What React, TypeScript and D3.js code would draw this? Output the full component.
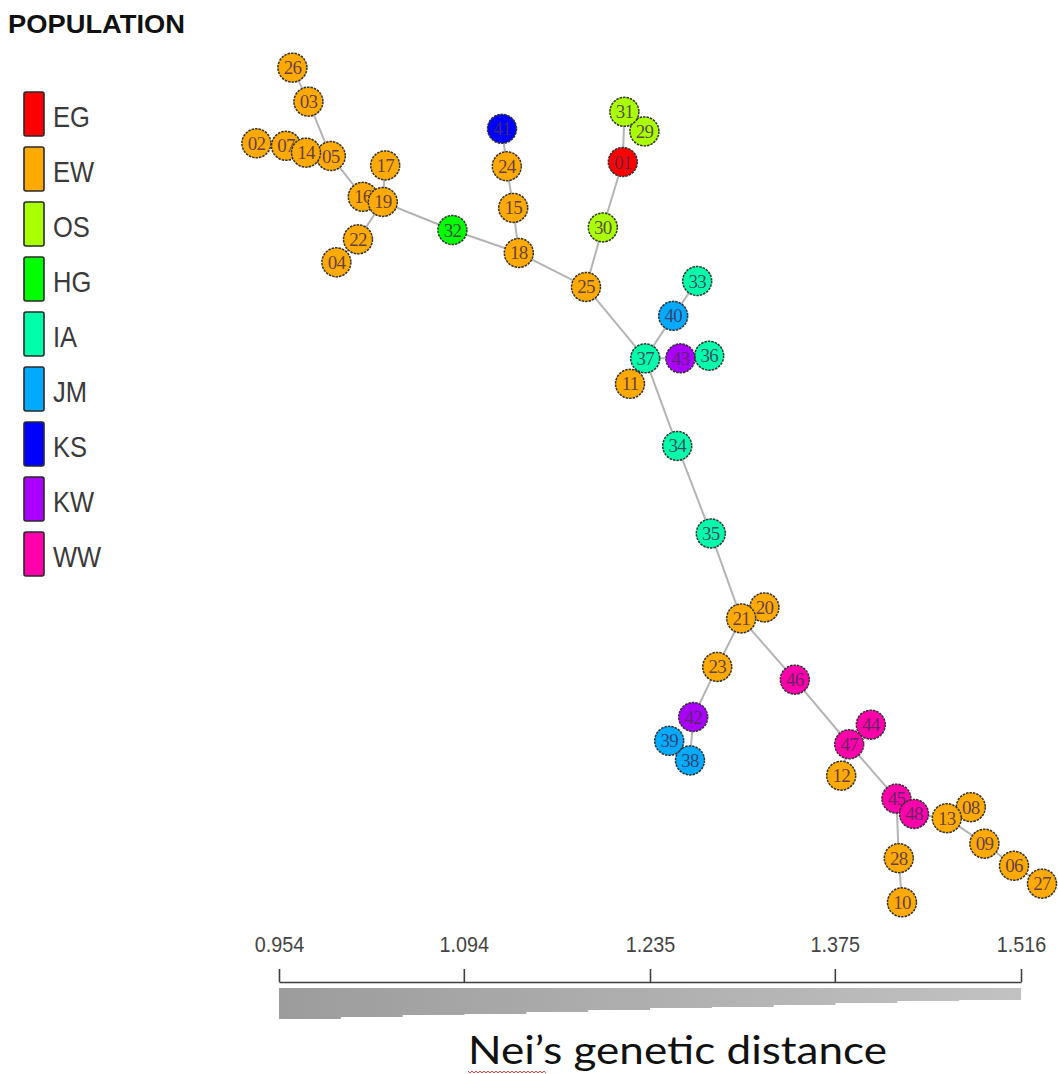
import React, { useEffect, useRef } from 'react';
import * as d3 from 'd3';

// populations and their colours (rainbow palette)
const POPULATIONS = ['EG', 'EW', 'OS', 'HG', 'IA', 'JM', 'KS', 'KW', 'WW'];
const POP_COLORS = ['#FF0000', '#FFAA00', '#AAFF00', '#00FF00', '#00FFAA', '#00AAFF', '#0000FF', '#AA00FF', '#FF00AA'];

// network nodes: id, population, layout x, layout y (layout units 0-100)
const NODES: [string, string, number, number][] = [
  ['01', 'EG', 46.6, 12.0],
  ['02', 'EW', 0.8, 9.8],
  ['03', 'EW', 7.3, 4.9],
  ['04', 'EW', 10.8, 23.8],
  ['05', 'EW', 10.1, 11.3],
  ['06', 'EW', 95.5, 94.8],
  ['07', 'EW', 4.5, 10.1],
  ['08', 'EW', 90.1, 87.9],
  ['09', 'EW', 91.8, 92.2],
  ['10', 'EW', 81.5, 99.1],
  ['11', 'EW', 47.5, 38.1],
  ['12', 'EW', 73.9, 84.2],
  ['13', 'EW', 87.1, 89.2],
  ['14', 'EW', 7.0, 10.9],
  ['15', 'EW', 32.9, 17.4],
  ['16', 'EW', 14.1, 16.1],
  ['17', 'EW', 16.9, 12.4],
  ['18', 'EW', 33.6, 22.7],
  ['19', 'EW', 16.6, 16.7],
  ['20', 'EW', 64.3, 64.4],
  ['21', 'EW', 61.4, 65.7],
  ['22', 'EW', 13.5, 21.1],
  ['23', 'EW', 58.4, 71.4],
  ['24', 'EW', 32.1, 12.5],
  ['25', 'EW', 42.0, 26.7],
  ['26', 'EW', 5.3, 0.9],
  ['27', 'EW', 99.0, 96.9],
  ['28', 'EW', 81.1, 93.9],
  ['29', 'OS', 49.3, 8.4],
  ['30', 'OS', 44.1, 19.7],
  ['31', 'OS', 46.8, 6.1],
  ['32', 'HG', 25.3, 20.0],
  ['33', 'IA', 55.9, 26.0],
  ['34', 'IA', 53.4, 45.4],
  ['35', 'IA', 57.6, 55.7],
  ['36', 'IA', 57.4, 34.8],
  ['37', 'IA', 49.4, 35.1],
  ['38', 'JM', 55.0, 82.4],
  ['39', 'JM', 52.4, 80.1],
  ['40', 'JM', 52.9, 30.1],
  ['41', 'KS', 31.5, 8.1],
  ['42', 'KW', 55.4, 77.3],
  ['43', 'KW', 53.8, 35.1],
  ['44', 'WW', 77.6, 78.2],
  ['45', 'WW', 80.8, 86.9],
  ['46', 'WW', 68.1, 72.9],
  ['47', 'WW', 74.9, 80.5],
  ['48', 'WW', 83.0, 88.7],
];

// minimum spanning network links
const EDGES: [string, string][] = [
  ['26', '03'], ['03', '05'], ['02', '07'], ['07', '14'], ['14', '05'], ['05', '16'],
  ['16', '19'], ['17', '19'], ['19', '22'], ['22', '04'], ['19', '32'], ['32', '18'],
  ['41', '24'], ['24', '15'], ['15', '18'], ['18', '25'], ['25', '30'], ['30', '01'],
  ['01', '31'], ['31', '29'], ['25', '37'], ['37', '40'], ['40', '33'], ['37', '43'],
  ['43', '36'], ['37', '11'], ['37', '34'], ['34', '35'], ['35', '21'], ['21', '20'],
  ['21', '23'], ['23', '42'], ['42', '38'], ['38', '39'], ['21', '46'], ['46', '47'],
  ['47', '44'], ['47', '12'], ['47', '45'], ['45', '48'], ['45', '28'], ['28', '10'],
  ['48', '13'], ['13', '08'], ['13', '09'], ['09', '06'], ['06', '27'],
];

// distance scale bar
const DIST_TICKS = [0.954, 1.094, 1.235, 1.375, 1.516];
const BAR_THICKNESS = [31, 29, 27, 26, 24, 22, 20, 19, 17, 15, 13, 12];

const App = () => {
  const ref = useRef<SVGSVGElement>(null);

  useEffect(() => {
    const width = 1058;
    const height = 1074;
    const svg = d3.select(ref.current).attr('width', width).attr('height', height);
    svg.selectAll('*').remove();

    const x = d3.scaleLinear([0, 100], [250, 1050]);
    const y = d3.scaleLinear([0, 100], [60, 910]);
    const color = d3.scaleOrdinal<string, string>(POPULATIONS, POP_COLORS);

    // title
    svg.append('text')
      .attr('x', 8).attr('y', 33)
      .attr('font-family', 'Liberation Sans, Arial, sans-serif')
      .attr('font-weight', 'bold')
      .attr('font-size', 25)
      .attr('fill', '#111')
      .attr('textLength', 177)
      .attr('lengthAdjust', 'spacingAndGlyphs')
      .text('POPULATION');

    // legend
    const leg = svg.append('g').selectAll('g')
      .data(POPULATIONS)
      .join('g')
      .attr('transform', (d, i) => `translate(24,${92 + i * 55})`);
    leg.append('rect')
      .attr('width', 20).attr('height', 44).attr('rx', 2)
      .attr('fill', d => color(d))
      .attr('stroke', '#2a2a2a').attr('stroke-width', 1.6);
    leg.append('text')
      .attr('transform', 'translate(29,35) scale(0.88,1)')
      .attr('font-family', 'Liberation Sans, Arial, sans-serif')
      .attr('font-size', 29)
      .attr('fill', '#3a3a3a')
      .text(d => d);

    // network links
    const pos = new Map(NODES.map(n => [n[0], [x(n[2]), y(n[3])]]));
    svg.append('g').selectAll('line')
      .data(EDGES)
      .join('line')
      .attr('x1', d => pos.get(d[0])![0]).attr('y1', d => pos.get(d[0])![1])
      .attr('x2', d => pos.get(d[1])![0]).attr('y2', d => pos.get(d[1])![1])
      .attr('stroke', '#b4b4b4')
      .attr('stroke-width', 2);

    // nodes
    const node = svg.append('g').selectAll('g')
      .data(NODES)
      .join('g')
      .attr('transform', d => `translate(${x(d[2])},${y(d[3])})`);
    node.append('circle')
      .attr('r', 14.5)
      .attr('fill', d => color(d[1]))
      .attr('stroke', '#333')
      .attr('stroke-width', 1.5)
      .attr('stroke-dasharray', '2.5 1');
    node.append('text')
      .attr('text-anchor', 'middle')
      .attr('y', 6.5)
      .attr('font-family', 'Liberation Serif, Times New Roman, serif')
      .attr('font-size', 19)
      .attr('letter-spacing', -0.8)
      .attr('fill', '#4a2d55')
      .attr('fill-opacity', 0.85)
      .text(d => d[0]);

    // scale bar
    const dx = d3.scaleLinear([DIST_TICKS[0], DIST_TICKS[DIST_TICKS.length - 1]], [279, 1021]);
    const axisY = 982;
    const grad = svg.append('defs').append('linearGradient')
      .attr('id', 'barGrad');
    grad.append('stop').attr('offset', '0%').attr('stop-color', '#9c9c9c');
    grad.append('stop').attr('offset', '100%').attr('stop-color', '#c2c2c2');

    const [r0, r1] = dx.range();
    const stepW = (r1 - r0) / BAR_THICKNESS.length;
    const barPts = BAR_THICKNESS.map((t, i) => [r0 + i * stepW, t] as [number, number]);
    barPts.push([r1, BAR_THICKNESS[BAR_THICKNESS.length - 1]]);
    const area = d3.area<[number, number]>()
      .x(d => d[0])
      .y0(axisY + 6)
      .y1(d => axisY + 6 + d[1])
      .curve(d3.curveStepAfter);
    svg.append('path')
      .attr('d', area(barPts))
      .attr('fill', 'url(#barGrad)');

    const axis = svg.append('g')
      .attr('transform', `translate(0,${axisY})`)
      .call(d3.axisTop(dx).tickValues(DIST_TICKS).tickSize(13).tickSizeOuter(0).tickFormat(d3.format('.3f')));
    axis.select('.domain').attr('stroke', '#3e3e3e').attr('stroke-width', 1.6);
    axis.selectAll('.tick line').attr('stroke', '#3e3e3e').attr('stroke-width', 1.6);
    axis.selectAll('.tick text')
      .attr('y', -30)
      .attr('font-family', 'Liberation Sans, Arial, sans-serif')
      .attr('font-size', 22)
      .attr('fill', '#444')
      .attr('transform', 'scale(0.9,1)');

    // axis title
    svg.append('text')
      .attr('x', 468).attr('y', 1064)
      .attr('font-family', 'Lato, Open Sans, sans-serif')
      .attr('font-size', 38)
      .attr('fill', '#111')
      .attr('textLength', 419)
      .attr('lengthAdjust', 'spacingAndGlyphs')
      .text('Nei\u2019s genetic distance');

    // spell-check squiggle under "Nei's"
    let sq = 'M468,1071';
    for (let xx = 468, k = 0; xx < 546; xx += 2, k++) sq += ` L${xx + 2},${k % 2 ? 1071 : 1073}`;
    svg.append('path').attr('d', sq).attr('fill', 'none').attr('stroke', '#e03030').attr('stroke-width', 0.9);
  }, []);

  return <svg ref={ref} style={{ position: 'absolute', left: 0, top: 0, background: '#fff' }}></svg>;
};

export default App;
